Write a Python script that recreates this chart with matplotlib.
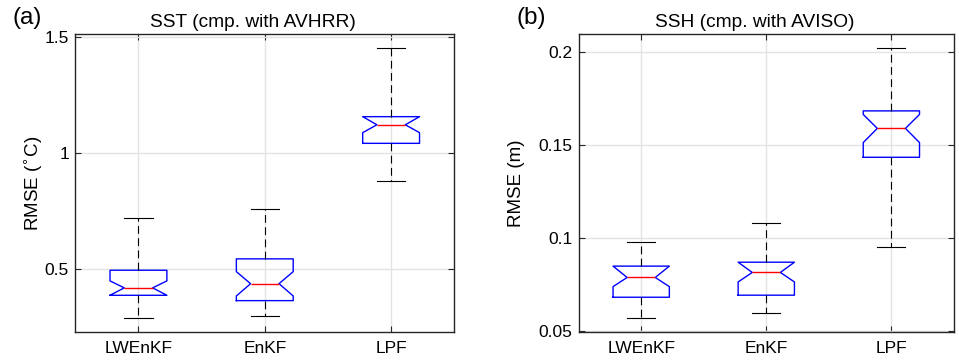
import matplotlib
matplotlib.use("Agg")
import matplotlib.pyplot as plt

plt.rcParams["font.family"] = ["Liberation Sans", "DejaVu Sans"]

methods = ["LWEnKF", "EnKF", "LPF"]

# panel (a): SST RMSE (deg C)
sst_low = [0.288, 0.296, 0.877]
sst_q1 = [0.385, 0.362, 1.040]
sst_med = [0.417, 0.435, 1.120]
sst_q3 = [0.493, 0.542, 1.155]
sst_high = [0.717, 0.756, 1.450]
sst_cilo = [0.385, 0.382, 1.086]
sst_cihi = [0.447, 0.487, 1.155]

# panel (b): SSH RMSE (m)
ssh_low = [0.0570, 0.0598, 0.0952]
ssh_q1 = [0.0683, 0.0694, 0.1434]
ssh_med = [0.0789, 0.0816, 0.1589]
ssh_q3 = [0.0850, 0.0871, 0.1683]
ssh_high = [0.0982, 0.1084, 0.2018]
ssh_cilo = [0.0740, 0.0765, 0.1513]
ssh_cihi = [0.0850, 0.0871, 0.1664]


def make_stats(low, q1, med, q3, high, cilo, cihi):
    stats = []
    for i in range(len(methods)):
        stats.append({"whislo": low[i], "q1": q1[i], "med": med[i], "q3": q3[i], "whishi": high[i],
                      "cilo": cilo[i], "cihi": cihi[i], "fliers": [], "label": methods[i]})
    return stats


def draw_panel(ax, stats, title, ylabel, ylim, yticks, yticklabels, letter, labelpad):
    ax.bxp(stats, shownotches=True, widths=0.45, showfliers=False,
           boxprops={"color": "#0000ff", "linewidth": 1.0},
           medianprops={"color": "#ff0000", "linewidth": 1.0},
           whiskerprops={"color": "black", "linewidth": 0.8, "linestyle": (0, (7, 4))},
           capprops={"color": "black", "linewidth": 0.8})
    ax.set_xlim(0.5, 3.5)
    ax.set_ylim(*ylim)
    ax.set_yticks(yticks)
    ax.set_yticklabels(yticklabels)
    ax.grid(True, color="#e3e3e3", linewidth=1.0)
    ax.set_axisbelow(True)
    ax.tick_params(direction="in", length=4, width=0.8, color="#262626", labelsize=12.5,
                   top=True, right=True, pad=4.5)
    ax.tick_params(axis="x", pad=7)
    for s in ax.spines.values():
        s.set_color("#262626")
        s.set_linewidth(1.0)
    ax.set_title(title, fontsize=13.75, x=0.469, pad=5)
    ax.set_ylabel(ylabel, fontsize=13.5, labelpad=labelpad)
    ax.text(-0.165, 1.055, letter, transform=ax.transAxes, fontsize=17.5, va="center", ha="left")


fig = plt.figure(figsize=(9.59, 3.63), dpi=100)
ax1 = fig.add_axes([0.0785, 0.0862, 0.3952, 0.8193])
ax2 = fig.add_axes([0.6034, 0.0862, 0.3913, 0.8193])

draw_panel(ax1, make_stats(sst_low, sst_q1, sst_med, sst_q3, sst_high, sst_cilo, sst_cihi),
           "SST (cmp. with AVHRR)", r"RMSE ($^{\circ}$C)", (0.228, 1.51),
           [0.5, 1.0, 1.5], ["0.5", "1", "1.5"], "(a)", 0.5)
draw_panel(ax2, make_stats(ssh_low, ssh_q1, ssh_med, ssh_q3, ssh_high, ssh_cilo, ssh_cihi),
           "SSH (cmp. with AVISO)", "RMSE (m)", (0.0498, 0.2094),
           [0.05, 0.1, 0.15, 0.2], ["0.05", "0.1", "0.15", "0.2"], "(b)", 9.5)

fig.savefig("out.png", dpi=100)
